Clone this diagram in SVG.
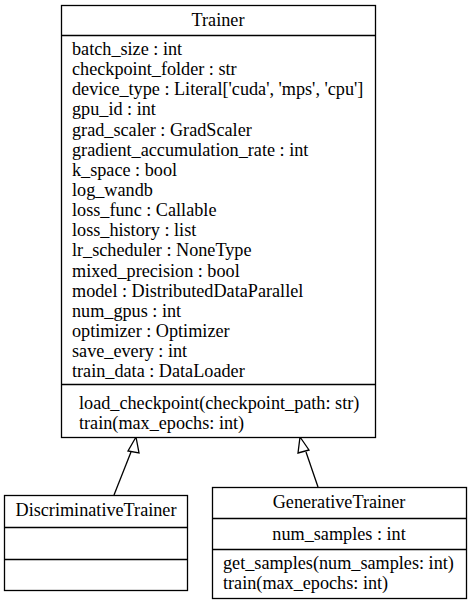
<svg xmlns="http://www.w3.org/2000/svg" width="472" height="605" viewBox="0 0 472 605">
<defs>
<style>
text{font-size:18.2px;fill:#000}
.c{text-anchor:middle}
.box{fill:#fff;stroke:#000;stroke-width:1.3}
.ln{stroke:#000;stroke-width:1.3;fill:none}
</style>
</defs>
<rect width="472" height="605" fill="#fff"/>
<g id="connectors">
<line class="ln" x1="114" y1="495" x2="131" y2="452"/>
<polygon class="box" points="136,437 128,451 139,453"/>
<line class="ln" x1="318" y1="487" x2="306" y2="452"/>
<polygon class="box" points="300,437 298,453 309,450"/>
</g>
<g font-family="'Liberation Serif', 'Times New Roman', 'DejaVu Serif', serif">
<g id="Trainer">
<rect class="box" x="61.5" y="5.5" width="314" height="432"/>
<line class="ln" x1="61.5" y1="35.5" x2="375.5" y2="35.5"/>
<line class="ln" x1="61.5" y1="384.5" x2="375.5" y2="384.5"/>
<text class="c" x="218" y="26">Trainer</text>
<text x="72" y="55">batch_size : int</text>
<text x="72" y="75">checkpoint_folder : str</text>
<text x="72" y="95">device_type : Literal['cuda', 'mps', 'cpu']</text>
<text x="72" y="115">gpu_id : int</text>
<text x="72" y="135.5">grad_scaler : GradScaler</text>
<text x="72" y="155.5">gradient_accumulation_rate : int</text>
<text x="72" y="175.5">k_space : bool</text>
<text x="72" y="196">log_wandb</text>
<text x="72" y="216">loss_func : Callable</text>
<text x="72" y="236">loss_history : list</text>
<text x="72" y="256">lr_scheduler : NoneType</text>
<text x="72" y="276.5">mixed_precision : bool</text>
<text x="72" y="296.5">model : DistributedDataParallel</text>
<text x="72" y="316.5">num_gpus : int</text>
<text x="72" y="337">optimizer : Optimizer</text>
<text x="72" y="357">save_every : int</text>
<text x="72" y="377">train_data : DataLoader</text>
<text x="79" y="409">load_checkpoint(checkpoint_path: str)</text>
<text x="79" y="429">train(max_epochs: int)</text>
</g>
<g id="DiscriminativeTrainer">
<rect class="box" x="4.5" y="495.5" width="183" height="95"/>
<line class="ln" x1="4.5" y1="527.5" x2="187.5" y2="527.5"/>
<line class="ln" x1="4.5" y1="559.5" x2="187.5" y2="559.5"/>
<text class="c" x="96" y="516">DiscriminativeTrainer</text>
</g>
<g id="GenerativeTrainer">
<rect class="box" x="212.5" y="487.5" width="254" height="111"/>
<line class="ln" x1="212.5" y1="518.5" x2="466.5" y2="518.5"/>
<line class="ln" x1="212.5" y1="549.5" x2="466.5" y2="549.5"/>
<text class="c" x="339" y="508">GenerativeTrainer</text>
<text class="c" x="339" y="540">num_samples : int</text>
<text x="223" y="569">get_samples(num_samples: int)</text>
<text x="223" y="589">train(max_epochs: int)</text>
</g>
</g>
</svg>
